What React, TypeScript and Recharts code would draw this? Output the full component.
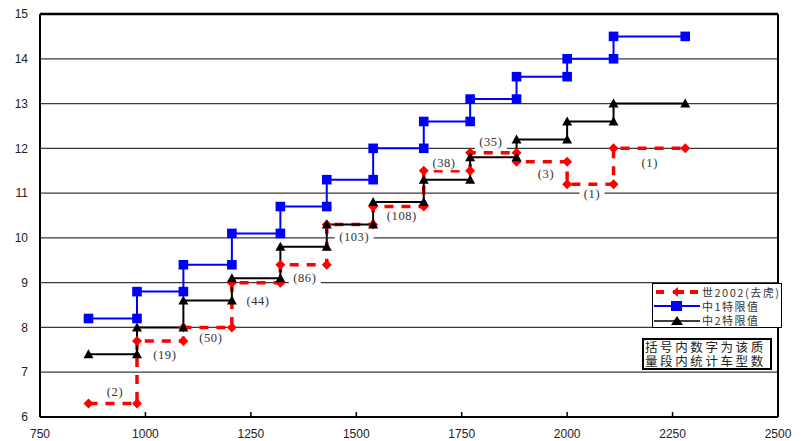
import React from 'react';
import {
  ComposedChart,
  Line,
  Scatter,
  XAxis,
  YAxis,
  CartesianGrid,
  ReferenceLine,
  Legend,
} from 'recharts';

// Mass band boundaries (kg)
const bandEdges = [865, 980, 1090, 1205, 1320, 1430, 1540, 1660, 1770, 1880, 2000, 2110, 2280];
// Level in each band (L/100km)
const world2002 = [6.3, 7.7, 8.0, 9.0, 9.4, 10.3, 10.7, 11.5, 11.9, 11.7, 11.2, 12.0];
const limit1 = [8.2, 8.8, 9.4, 10.1, 10.7, 11.3, 12.0, 12.6, 13.1, 13.6, 14.0, 14.5];
const limit2 = [7.4, 8.0, 8.6, 9.1, 9.8, 10.3, 10.8, 11.3, 11.8, 12.2, 12.6, 13.0];

const seriesNames = ['世2002(去虎)', '中1特限值', '中2特限值'];

// Count annotations
const noteX = [928, 1046, 1155, 1267, 1378, 1495, 1608, 1708, 1819, 1950, 2059, 2196];
const noteY = [6.56, 7.39, 7.77, 8.59, 9.11, 10.02, 10.48, 11.67, 12.14, 11.43, 10.98, 11.67];
const noteText = ['(2)', '(19)', '(50)', '(44)', '(86)', '(103)', '(108)', '(38)', '(35)', '(3)', '(1)', '(1)'];

const xTicks = [750, 1000, 1250, 1500, 1750, 2000, 2250, 2500];
const yTicks = [6, 7, 8, 9, 10, 11, 12, 13, 14, 15];

const boxLines = ['括号内数字为该质', '量段内统计车型数'];

function steps(levels: number[]) {
  const out: { x: number; y: number }[] = [];
  levels.forEach((v, i) => {
    out.push({ x: bandEdges[i], y: v });
    out.push({ x: bandEdges[i + 1], y: v });
  });
  return out;
}

const redData = steps(world2002);
const blueData = steps(limit1);
const blackData = steps(limit2);
const noteData = noteX.map((x, i) => ({ x, y: noteY[i], text: noteText[i] }));

const RED = '#ff0000';
const BLUE = '#0000ff';
const BLACK = '#000000';

const Diamond = (props: any) => {
  const { cx, cy, index } = props;
  if (cx == null || cy == null) return <g key={`d${index}`} />;
  const r = 5;
  return (
    <polygon
      key={`d${index}`}
      points={`${cx - r},${cy} ${cx},${cy - r} ${cx + r},${cy} ${cx},${cy + r}`}
      fill={RED}
      stroke="none"
    />
  );
};

const Square = (props: any) => {
  const { cx, cy, index } = props;
  if (cx == null || cy == null) return <g key={`s${index}`} />;
  const r = 4.8;
  return <rect key={`s${index}`} x={cx - r} y={cy - r} width={r * 2} height={r * 2} fill={BLUE} />;
};

const Triangle = (props: any) => {
  const { cx, cy, index } = props;
  if (cx == null || cy == null) return <g key={`t${index}`} />;
  return (
    <polygon
      key={`t${index}`}
      points={`${cx - 5},${cy + 4} ${cx},${cy - 5} ${cx + 5},${cy + 4}`}
      fill={BLACK}
    />
  );
};

const NoteShape = (props: any) => {
  const { cx, cy, payload } = props;
  const w = payload.text.length * 7 + 4;
  return (
    <g>
      <rect x={cx - w / 2} y={cy - 7} width={w} height={14} fill="#fff" />
      <text
        x={cx}
        y={cy + 4}
        textAnchor="middle"
        fontFamily="'Liberation Serif', serif"
        fontSize={12.5}
        letterSpacing={0.6}
        fill="#333"
      >
        {payload.text}
      </text>
    </g>
  );
};

const XTick = (props: any) => {
  const { x, y, payload } = props;
  return (
    <g>
      <line x1={x} y1={y - 5} x2={x} y2={y} stroke="#000" strokeWidth={1.5} />
      <text
        x={x}
        y={y + 21}
        textAnchor="middle"
        fontFamily="'Liberation Sans', Arial, sans-serif"
        fontSize={12}
        fill="#222"
      >
        {payload.value}
      </text>
    </g>
  );
};

const renderLegend = () => {
  const rowStyle: React.CSSProperties = {
    display: 'flex',
    alignItems: 'center',
    height: 14,
  };
  const textStyle: React.CSSProperties = {
    fontFamily: "'Noto Sans CJK SC', sans-serif",
    fontSize: 11,
    lineHeight: '13px',
    letterSpacing: 1.5,
    color: '#333',
    marginLeft: 1,
    whiteSpace: 'nowrap',
  };
  return (
    <div
      style={{
        width: 130,
        height: 45,
        boxSizing: 'border-box',
        border: '1px solid #000',
        background: '#fff',
        padding: '1px 0 0 0',
        overflow: 'hidden',
      }}
    >
      <div style={rowStyle}>
        <svg width={48} height={14}>
          <line x1={3} y1={7} x2={46} y2={7} stroke={RED} strokeWidth={4} strokeDasharray="8 9" />
          <polygon points="19,7 25,2 25,5 31,5 31,9 25,9 25,12" fill={RED} />
        </svg>
        <span style={textStyle}>{seriesNames[0]}</span>
      </div>
      <div style={rowStyle}>
        <svg width={48} height={14}>
          <line x1={1} y1={7} x2={47} y2={7} stroke={BLUE} strokeWidth={2} />
          <rect x={18} y={2} width={11} height={10} fill={BLUE} />
        </svg>
        <span style={textStyle}>{seriesNames[1]}</span>
      </div>
      <div style={rowStyle}>
        <svg width={48} height={14}>
          <line x1={1} y1={8} x2={47} y2={8} stroke={BLACK} strokeWidth={1.5} />
          <polygon points="18,12 24,3 30,12" fill={BLACK} />
        </svg>
        <span style={textStyle}>{seriesNames[2]}</span>
      </div>
    </div>
  );
};

export default function App() {
  return (
    <div style={{ position: 'absolute', left: 0, top: 0, width: 802, height: 441, background: '#fff' }}>
      <ComposedChart
        width={802}
        height={441}
        margin={{ top: 14, right: 24, bottom: 0, left: 0 }}
      >
        <CartesianGrid horizontal vertical={false} stroke="#3a3a3a" strokeWidth={1.3} />
        <XAxis
          dataKey="x"
          type="number"
          domain={[750, 2500]}
          ticks={xTicks}
          height={24}
          tickSize={0}
          tickMargin={0}
          tickLine={false}
          axisLine={{ stroke: '#000', strokeWidth: 2 }}
          tick={<XTick />}
          allowDuplicatedCategory
        />
        <YAxis
          type="number"
          domain={[6, 15]}
          ticks={yTicks}
          width={40}
          tickSize={0}
          tickMargin={12}
          tickLine={false}
          axisLine={{ stroke: '#000', strokeWidth: 2 }}
          tick={{ fontFamily: "'Liberation Sans', Arial, sans-serif", fontSize: 12, fill: '#222' }}
        />
        <ReferenceLine y={15} stroke="#000" strokeWidth={2.5} />
        <ReferenceLine x={2500} stroke="#000" strokeWidth={2} />
        <Scatter
          data={noteData}
          dataKey="y"
          shape={<NoteShape />}
          isAnimationActive={false}
          legendType="none"
        />
        <Line
          data={redData}
          dataKey="y"
          name={seriesNames[0]}
          type="linear"
          stroke={RED}
          strokeWidth={3.5}
          strokeDasharray="9 8"
          dot={Diamond}
          activeDot={false}
          isAnimationActive={false}
        />
        <Line
          data={blueData}
          dataKey="y"
          name={seriesNames[1]}
          type="linear"
          stroke={BLUE}
          strokeWidth={2}
          dot={Square}
          activeDot={false}
          isAnimationActive={false}
        />
        <Line
          data={blackData}
          dataKey="y"
          name={seriesNames[2]}
          type="linear"
          stroke={BLACK}
          strokeWidth={2}
          dot={Triangle}
          activeDot={false}
          isAnimationActive={false}
        />
        <Legend
          layout="horizontal"
          verticalAlign="middle"
          align="center"
          content={renderLegend}
          wrapperStyle={{ position: 'absolute', left: 652, top: 283, width: 130, height: 45 }}
        />
      </ComposedChart>
      <div
        style={{
          position: 'absolute',
          left: 642,
          top: 338,
          width: 130,
          height: 32,
          boxSizing: 'border-box',
          border: '2px solid #000',
          background: '#fff',
          fontFamily: "'Noto Sans CJK SC', sans-serif",
          fontSize: 12.5,
          lineHeight: '14px',
          letterSpacing: 2.6,
          color: '#222',
          padding: '0 0 0 1px',
          whiteSpace: 'nowrap',
          overflow: 'hidden',
        }}
      >
        {boxLines.map((l) => (
          <div key={l}>{l}</div>
        ))}
      </div>
    </div>
  );
}
